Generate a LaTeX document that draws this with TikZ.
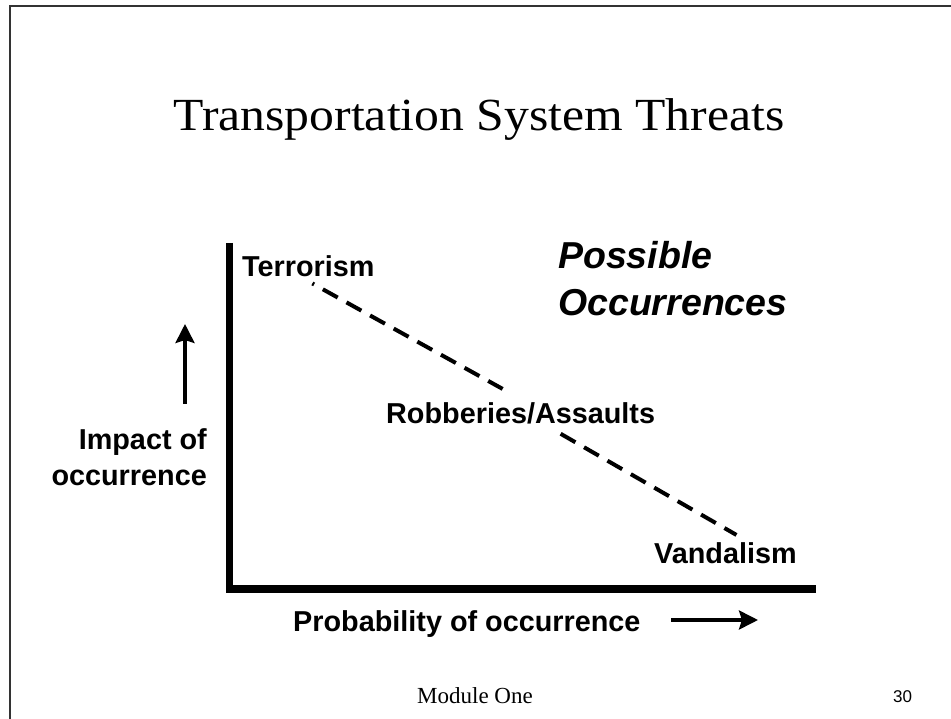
\documentclass[tikz,border=0pt]{standalone}
\usepackage{fontspec}
\setmainfont{Liberation Serif}
\setsansfont{Liberation Sans}
\usetikzlibrary{arrows.meta}

\begin{document}
\begin{tikzpicture}[x = 1pt, y = -1pt]
\tikzstyle{frameStyle} = [draw = black!80, line width = 2pt]
\tikzstyle{titleStyle} = [inner sep = 0pt, anchor = base, xscale = 1.08, font = \fontsize{46}{50}\selectfont]
\tikzstyle{threatStyle} = [inner sep = 0pt, anchor = base west, font = \sffamily\bfseries\fontsize{28.8}{34}\selectfont]
\tikzstyle{possibleStyle} = [inner sep = 0pt, anchor = north west, align = left, font = \sffamily\bfseries\itshape\fontsize{37.5}{47}\selectfont]
\tikzstyle{footStyle} = [inner sep = 0pt, anchor = base]
\tikzstyle{axisStyle} = [line width = 7.5pt, line join = miter]
\tikzstyle{arrowStyle} = [line width = 3.5pt, -{Stealth[length = 19pt, width = 19pt, inset = 3pt]}]
\tikzstyle{dashStyle} = [line width = 4pt, dash pattern = on 17pt off 10pt]
\useasboundingbox (0, 0) rectangle (951, 719);
\draw[frameStyle] (10, 719) -- (10, 6) -- (951, 6);
\node[titleStyle] (title) at (479, 131) {Transportation System Threats};
\coordinate (yTop) at (229.5, 243);
\coordinate (origin) at (229.5, 589);
\coordinate (xEnd) at (816, 589);
\draw[axisStyle] (yTop) -- (origin) -- (xEnd);
\node[threatStyle] (terror) at (242, 277) {Terrorism};
\node[threatStyle] (robb) at (386, 423) {Robberies/Assaults};
\node[threatStyle] (vand) at (654, 563) {Vandalism};
\node[possibleStyle] (possible) at (558, 241) {Possible\\Occurrences};
\draw[dashStyle, dash phase = 15pt] ([xshift = 4pt, yshift = -6pt]terror.south) -- ([xshift = -18pt, yshift = 13pt]robb.north);
\draw[dashStyle] ([xshift = 40pt, yshift = -10pt]robb.south) -- ([xshift = 11pt, yshift = 7pt]vand.north);
\node[threatStyle, anchor = north east, align = right, font = \sffamily\bfseries\fontsize{28.8}{36}\selectfont] (impact) at (207, 428) {Impact of\\occurrence};
\node[threatStyle] (prob) at (293, 631) {Probability of occurrence};
\coordinate (impactTail) at (185, 404);
\coordinate (impactHead) at (185, 324);
\draw[arrowStyle] (impactTail) -- (impactHead);
\coordinate (probTail) at (671, 620);
\coordinate (probHead) at (758, 620);
\draw[arrowStyle] (probTail) -- (probHead);
\node[footStyle, font = \fontsize{23}{26}\selectfont] (module) at (475, 703) {Module One};
\node[footStyle, anchor = base west, font = \sffamily\fontsize{17}{20}\selectfont] (page) at (893, 702) {30};
\end{tikzpicture}
\end{document}
